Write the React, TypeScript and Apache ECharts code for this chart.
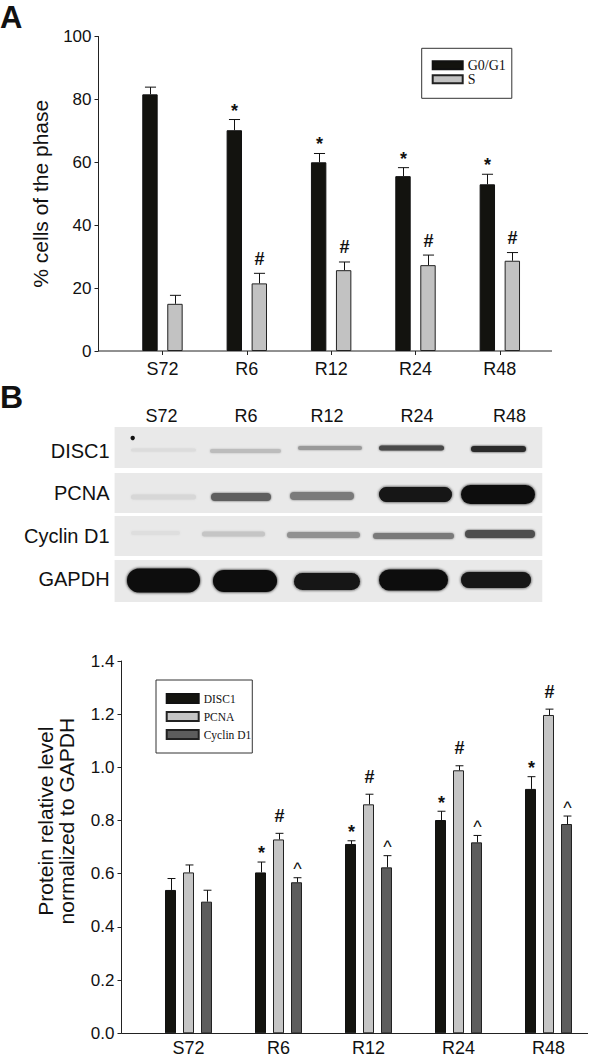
import React, { useEffect, useRef } from 'react';
import * as echarts from 'echarts';

// ---------- data ----------
const categories = ['S72', 'R6', 'R12', 'R24', 'R48'];

// Panel A: cell-cycle phases (%)
const panelAYTicks = [0, 20, 40, 60, 80, 100];
const g0g1Values = [81.6, 70.2, 60.0, 55.6, 53.0];
const g0g1Errors = [2.3, 3.4, 2.8, 2.7, 3.2];
const g0g1Marks = ['', '*', '*', '*', '*'];
const sValues = [15.0, 21.5, 25.7, 27.3, 28.7];
const sErrors = [2.7, 3.2, 2.6, 3.2, 2.6];
const sMarks = ['', '#', '#', '#', '#'];

// Panel B: protein level normalized to GAPDH
const panelBYTicks = [0, 0.2, 0.4, 0.6, 0.8, 1.0, 1.2, 1.4];
const disc1Values = [0.539, 0.605, 0.712, 0.802, 0.919];
const disc1Errors = [0.043, 0.039, 0.012, 0.033, 0.046];
const disc1Marks = ['', '*', '*', '*', '*'];
const pcnaValues = [0.605, 0.729, 0.861, 0.989, 1.197];
const pcnaErrors = [0.028, 0.023, 0.038, 0.017, 0.022];
const pcnaMarks = ['', '#', '#', '#', '#'];
const cyclinValues = [0.495, 0.568, 0.624, 0.718, 0.787];
const cyclinErrors = [0.043, 0.017, 0.044, 0.026, 0.030];
const cyclinMarks = ['', '^', '^', '^', '^'];

// Western blot: proteins and band darkness per lane (0 = none, 1 = black)
const blotProteins = ['DISC1', 'PCNA', 'Cyclin D1', 'GAPDH'];
const disc1Bands = [0.06, 0.2, 0.36, 0.72, 0.85];
const pcnaBands = [0.08, 0.62, 0.5, 0.96, 0.98];
const cyclinBands = [0.05, 0.16, 0.4, 0.5, 0.7];
const gapdhBands = [0.97, 0.97, 0.95, 0.97, 0.96];

// ---------- layout ----------
const FONT = "'Liberation Sans', Arial, Helvetica, sans-serif";
const SERIF = "'Liberation Serif', 'Times New Roman', serif";
const INK = '#111';

const LAYOUT = {
  A: { left: 120.3, top: 36.5, width: 421.7, height: 314.5, axisX: 98.5, axisEnd: 552, barW: 15.4, gap: 9.6 },
  B: { left: 143.5, top: 661, width: 450, height: 372.3, axisX: 121.5, axisEnd: 588, barW: 11, gap: 7 },
  blot: {
    left: 114.6,
    right: 542.3,
    strips: [[427, 468], [473, 513], [516, 556], [560, 602]],
    rowLabelX: 109.6,
    rowLabelY: [450.5, 492.7, 535.7, 579],
    laneLabelX: [161.5, 246, 327, 417, 509.6],
    laneLabelY: 416,
    // [x0, x1, yCenter, height] for each lane in each row
    boxes: [
      [[131, 196, 450, 3], [210, 281, 451, 4], [298, 362, 448, 4], [379, 444, 448, 5], [471, 526, 449, 6]],
      [[131, 196, 497, 5], [211, 271, 497, 8], [290, 354, 496, 8], [379, 452, 494.5, 15], [461, 535, 494.5, 19]],
      [[131, 180, 533, 4], [202, 265, 534, 5], [287, 360, 535, 6], [373, 454, 536, 6], [465, 535, 534, 8]],
      [[127, 200, 580.5, 24], [213, 277, 581, 22], [294, 360, 581.5, 17], [379, 448, 580, 21], [461, 531, 580, 16]],
    ],
  },
};

const MARK_WEIGHT: Record<string, string> = { '*': 'bold', '#': 'bold', '^': 'normal' };

function errorSeries(
  name: string,
  values: number[],
  errors: number[],
  marks: string[],
  axisIndex: number,
  offset: number,
  barW: number,
  markOffsets: Record<string, number>
) {
  return {
    type: 'custom',
    name,
    xAxisIndex: axisIndex,
    yAxisIndex: axisIndex,
    silent: true,
    z: 5,
    data: values.map((v, i) => [i, v, errors[i]]),
    renderItem: (params: any, api: any) => {
      const i = api.value(0);
      const v = api.value(1);
      const e = api.value(2);
      const p0 = api.coord([i, v]);
      const p1 = api.coord([i, v + e]);
      const x = Math.round(p0[0] + offset) + 0.5;
      const cap = barW * 0.36;
      const children: any[] = [
        { type: 'line', shape: { x1: x, y1: p0[1], x2: x, y2: p1[1] }, style: { stroke: INK, lineWidth: 1 } },
        { type: 'line', shape: { x1: x - cap, y1: p1[1], x2: x + cap, y2: p1[1] }, style: { stroke: INK, lineWidth: 1 } },
      ];
      const m = marks[params.dataIndex];
      if (m) {
        children.push({
          type: 'text',
          x,
          y: p1[1] - markOffsets[m],
          style: {
            text: m,
            fontSize: 18,
            fontWeight: MARK_WEIGHT[m] || 'normal',
            fontFamily: FONT,
            fill: INK,
            align: 'center',
            verticalAlign: 'middle',
            textAlign: 'center',
            textVerticalAlign: 'middle',
          },
        });
      }
      return { type: 'group', children };
    },
  };
}

function bandColor(d: number) {
  const l = Math.round(233 - 223 * d);
  return `rgb(${l},${l},${l})`;
}

function buildGraphic() {
  const g: any[] = [];
  const B = LAYOUT.blot;
  const txt = (text: string, x: number, y: number, size: number, align: string, extra: any = {}) => ({
    type: 'text',
    x,
    y,
    style: {
      text,
      fontSize: size,
      fontFamily: FONT,
      fill: INK,
      align,
      verticalAlign: 'middle',
      textAlign: align,
      textVerticalAlign: 'middle',
      ...extra,
    },
  });
  // panel letters
  g.push(txt('A', 0, 17.5, 31, 'left', { fontWeight: 'bold' }));
  g.push(txt('B', 0, 396.7, 32, 'left', { fontWeight: 'bold' }));
  // x-axis baselines
  g.push({ type: 'line', shape: { x1: LAYOUT.A.axisX, y1: 351, x2: LAYOUT.A.axisEnd, y2: 351 }, style: { stroke: '#222', lineWidth: 1 } });
  g.push({ type: 'line', shape: { x1: LAYOUT.B.axisX, y1: 1033.5, x2: LAYOUT.B.axisEnd, y2: 1033.5 }, style: { stroke: '#222', lineWidth: 1 } });
  // blot lane labels
  categories.forEach((c, i) => g.push(txt(c, B.laneLabelX[i], B.laneLabelY, 18, 'center')));
  // blot strips
  const bands = [disc1Bands, pcnaBands, cyclinBands, gapdhBands];
  blotProteins.forEach((p, r) => {
    const [y0, y1] = B.strips[r];
    g.push({ type: 'rect', shape: { x: B.left, y: y0, width: B.right - B.left, height: y1 - y0 }, style: { fill: '#e9e9e9' } });
    g.push(txt(p, B.rowLabelX, B.rowLabelY[r], 20, 'right'));
    bands[r].forEach((d, li) => {
      const [x0, x1, yc, h] = B.boxes[r][li];
      const col = bandColor(d);
      g.push({
        type: 'rect',
        shape: { x: x0, y: yc - h / 2, width: x1 - x0, height: h, r: h / 2 },
        style: { fill: col, shadowBlur: h > 10 ? 3 : 2, shadowColor: col },
      });
    });
  });
  // speck on the DISC1 strip
  g.push({ type: 'circle', shape: { cx: 132.7, cy: 438, r: 2.2 }, style: { fill: '#111' } });
  return g;
}

function buildOption() {
  const A = LAYOUT.A;
  const Bl = LAYOUT.B;
  const offA = (A.barW + A.gap) / 2;
  const offB = Bl.barW + Bl.gap;
  const axisLabel = { fontFamily: FONT, color: INK };
  const lineStyle = { color: '#222', width: 1 };
  return {
    animation: false,
    backgroundColor: '#fff',
    grid: [
      { left: A.left, top: A.top, width: A.width, height: A.height },
      { left: Bl.left, top: Bl.top, width: Bl.width, height: Bl.height },
    ],
    legend: [
      {
        data: ['G0/G1', 'S'],
        orient: 'vertical',
        left: 421.7,
        top: 48.3,
        itemWidth: 30,
        itemHeight: 8,
        itemGap: 0,
        padding: [10, 6, 12, 10],
        borderColor: '#333',
        borderWidth: 1,
        icon: 'rect',
        selectedMode: false,
        textStyle: { fontFamily: SERIF, fontSize: 14, lineHeight: 13, color: INK },
      },
      {
        data: ['DISC1', 'PCNA', 'Cyclin D1'],
        orient: 'vertical',
        left: 156,
        top: 680,
        itemWidth: 32,
        itemHeight: 9,
        itemGap: 6,
        padding: [12.5, 1, 12.5, 9.7],
        borderColor: '#333',
        borderWidth: 1,
        icon: 'rect',
        selectedMode: false,
        textStyle: { fontFamily: SERIF, fontSize: 11.5, lineHeight: 12, color: INK },
      },
    ],
    xAxis: [
      {
        type: 'category',
        gridIndex: 0,
        data: categories,
        axisLine: { show: false },
        axisTick: { show: true, alignWithLabel: true, length: 4, lineStyle },
        axisLabel: { ...axisLabel, fontSize: 18, margin: 9 },
      },
      {
        type: 'category',
        gridIndex: 1,
        data: categories,
        axisLine: { show: false },
        axisTick: { show: false },
        axisLabel: { ...axisLabel, fontSize: 18, margin: 6 },
      },
    ],
    yAxis: [
      {
        type: 'value',
        gridIndex: 0,
        min: panelAYTicks[0],
        max: panelAYTicks[panelAYTicks.length - 1],
        interval: panelAYTicks[1] - panelAYTicks[0],
        offset: A.left - A.axisX,
        axisLine: { show: true, lineStyle },
        axisTick: { show: true, length: 4, lineStyle },
        splitLine: { show: false },
        axisLabel: { ...axisLabel, fontSize: 17, margin: 7 },
        name: '% cells of the phase',
        nameLocation: 'middle',
        nameRotate: 90,
        nameGap: 47.5,
        nameTextStyle: { fontFamily: FONT, fontSize: 21, color: INK },
      },
      {
        type: 'value',
        gridIndex: 1,
        min: panelBYTicks[0],
        max: panelBYTicks[panelBYTicks.length - 1],
        interval: 0.2,
        offset: Bl.left - Bl.axisX,
        axisLine: { show: true, lineStyle },
        axisTick: { show: true, length: 4, lineStyle },
        splitLine: { show: false },
        axisLabel: { ...axisLabel, fontSize: 17, margin: 7, formatter: (v: number) => v.toFixed(1) },
        name: 'Protein relative level\nnormalized to GAPDH',
        nameLocation: 'middle',
        nameRotate: 90,
        nameGap: 45,
        nameTextStyle: { fontFamily: FONT, fontSize: 21, lineHeight: 21, color: INK, padding: [0, 0, 0, 52] },
      },
    ],
    series: [
      {
        type: 'bar', name: 'G0/G1', xAxisIndex: 0, yAxisIndex: 0, data: g0g1Values,
        barWidth: A.barW, barGap: `${(A.gap / A.barW) * 100}%`,
        itemStyle: { color: '#13130f', borderColor: '#111', borderWidth: 1 },
      },
      {
        type: 'bar', name: 'S', xAxisIndex: 0, yAxisIndex: 0, data: sValues,
        barWidth: A.barW, barGap: `${(A.gap / A.barW) * 100}%`,
        itemStyle: { color: '#c2c2c2', borderColor: '#222', borderWidth: 1 },
      },
      errorSeries('G0/G1 err', g0g1Values, g0g1Errors, g0g1Marks, 0, -offA, A.barW, { '*': 9 }),
      errorSeries('S err', sValues, sErrors, sMarks, 0, offA, A.barW, { '#': 14.5 }),
      {
        type: 'bar', name: 'DISC1', xAxisIndex: 1, yAxisIndex: 1, data: disc1Values,
        barWidth: Bl.barW, barGap: `${(Bl.gap / Bl.barW) * 100}%`,
        itemStyle: { color: '#14140f', borderColor: '#111', borderWidth: 1 },
      },
      {
        type: 'bar', name: 'PCNA', xAxisIndex: 1, yAxisIndex: 1, data: pcnaValues,
        barWidth: Bl.barW, barGap: `${(Bl.gap / Bl.barW) * 100}%`,
        itemStyle: { color: '#c5c5c5', borderColor: '#222', borderWidth: 1 },
      },
      {
        type: 'bar', name: 'Cyclin D1', xAxisIndex: 1, yAxisIndex: 1, data: cyclinValues,
        barWidth: Bl.barW, barGap: `${(Bl.gap / Bl.barW) * 100}%`,
        itemStyle: { color: '#5d5d5d', borderColor: '#222', borderWidth: 1 },
      },
      errorSeries('DISC1 err', disc1Values, disc1Errors, disc1Marks, 1, -offB, Bl.barW, { '*': 8.7 }),
      errorSeries('PCNA err', pcnaValues, pcnaErrors, pcnaMarks, 1, 0, Bl.barW, { '#': 17.5 }),
      errorSeries('Cyclin D1 err', cyclinValues, cyclinErrors, cyclinMarks, 1, offB, Bl.barW, { '^': 8.5 }),
    ],
    graphic: buildGraphic(),
  };
}

export default function App() {
  const ref = useRef<HTMLDivElement>(null);
  useEffect(() => {
    if (!ref.current) return;
    const chart = echarts.init(ref.current, undefined, { renderer: 'svg' });
    chart.setOption(buildOption() as any);
    return () => chart.dispose();
  }, []);
  return (
    <div
      ref={ref}
      style={{ position: 'absolute', left: 0, top: 0, width: 600, height: 1063, background: '#fff' }}
    />
  );
}
